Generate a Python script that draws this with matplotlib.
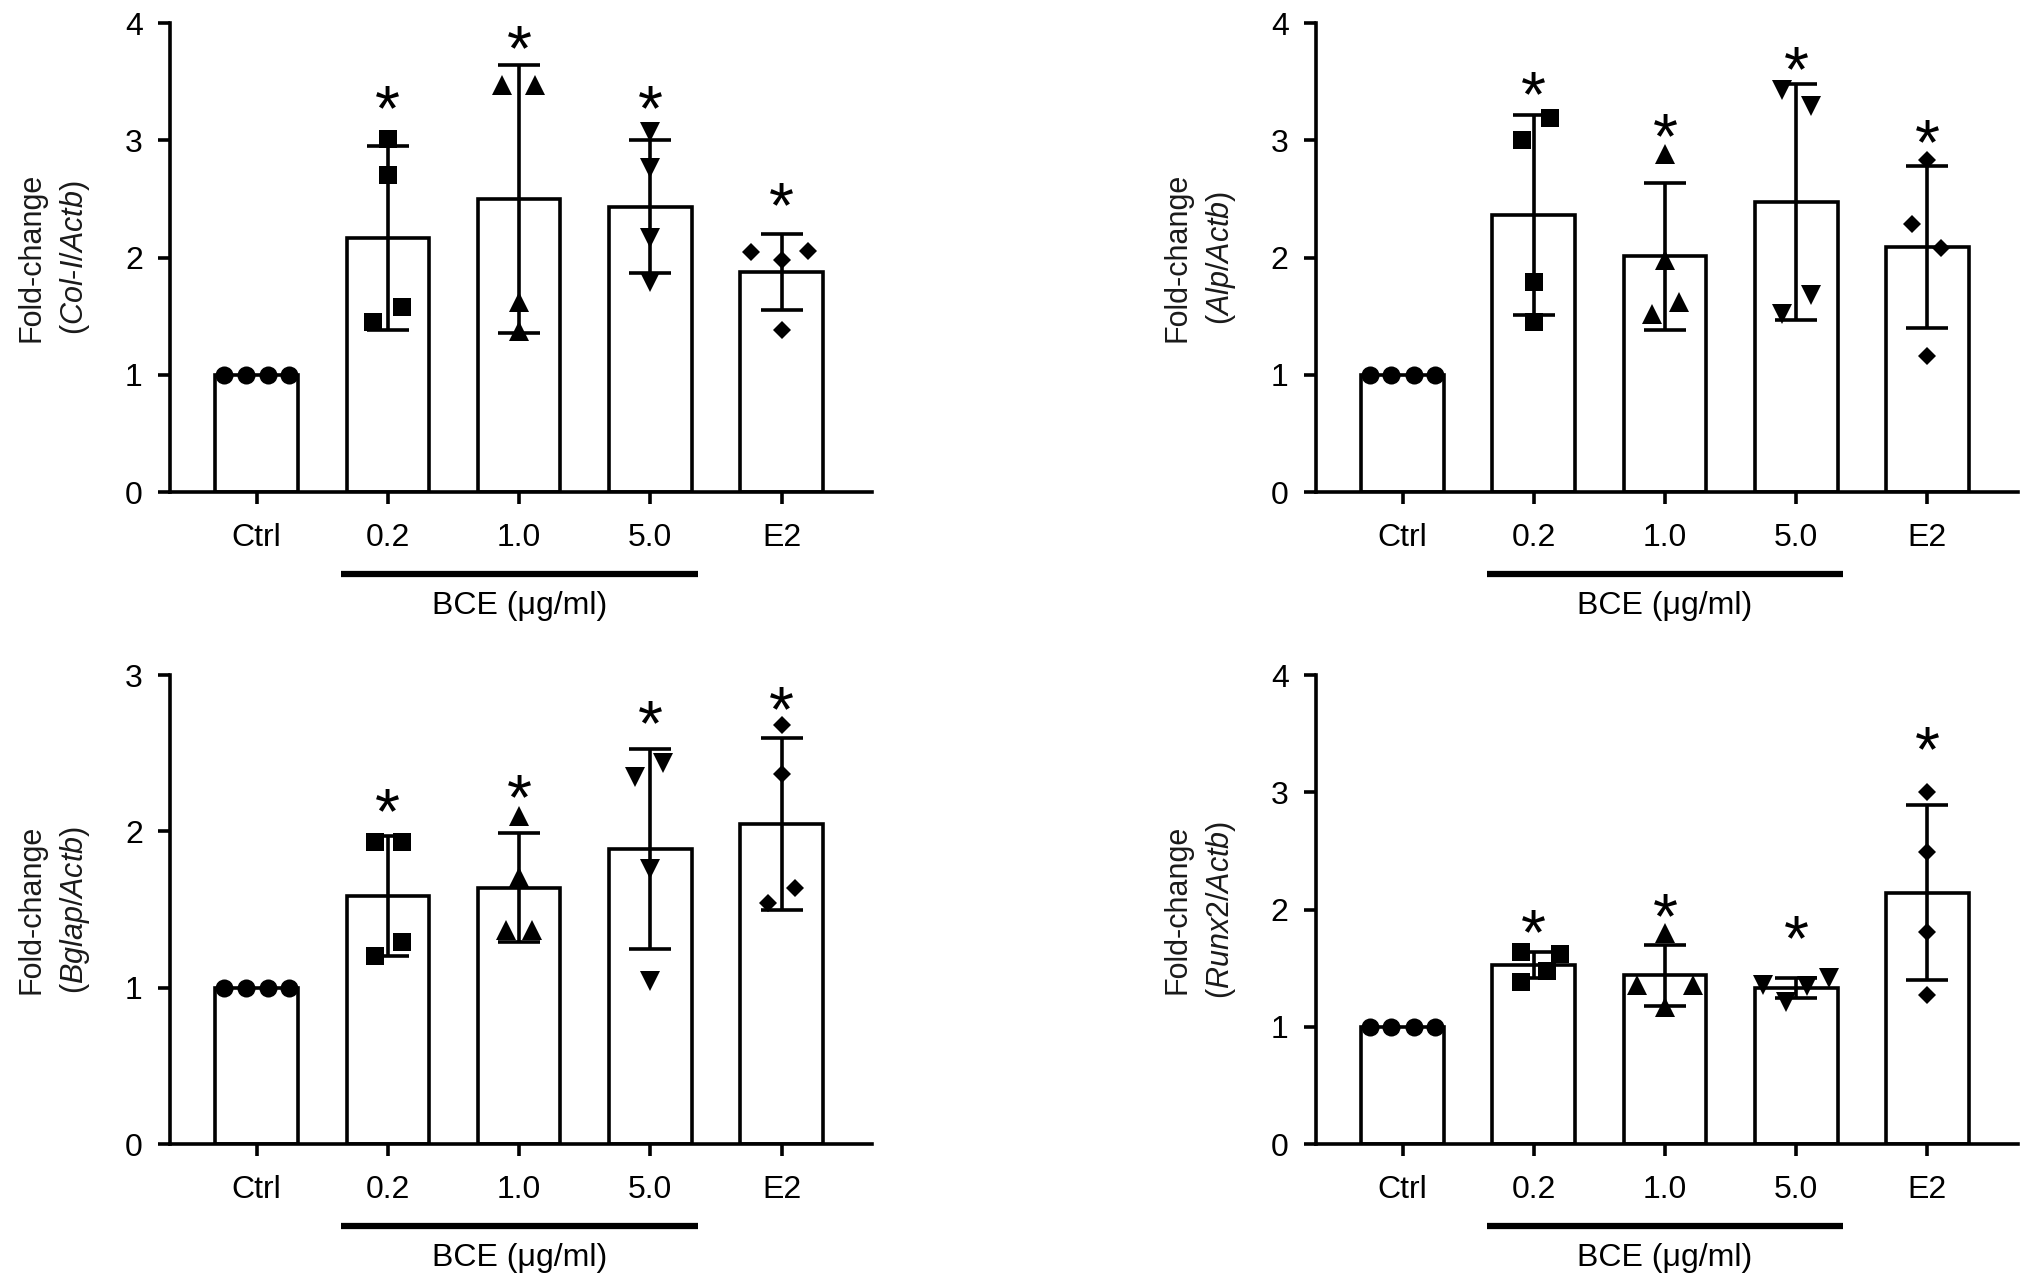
import matplotlib
matplotlib.use('Agg')
import matplotlib.pyplot as plt
import matplotlib.transforms as mtransforms
import numpy as np

plt.rcParams['font.family'] = ['Liberation Sans', 'DejaVu Sans']
plt.rcParams['mathtext.fontset'] = 'custom'
plt.rcParams['mathtext.it'] = 'Liberation Sans:italic'
plt.rcParams['mathtext.rm'] = 'Liberation Sans'

# ---------------- data ----------------
categories = ['Ctrl', '0.2', '1.0', '5.0', 'E2']
bracket_label = 'BCE (μg/ml)'
genes = ['Col-I', 'Alp', 'Bglap', 'Runx2']
y_tops = [4, 4, 3, 4]

# Col-I / Actb
colI_mean = [1.0, 2.17, 2.50, 2.435, 1.875]
colI_sd = [0.0, 0.785, 1.145, 0.565, 0.325]
colI_points = [[1.0, 1.0, 1.0, 1.0],
               [3.01, 2.70, 1.58, 1.45],
               [3.47, 3.47, 1.62, 1.37],
               [3.07, 2.76, 2.17, 1.79],
               [2.05, 1.98, 2.06, 1.38]]
colI_stars = [None, 3.41, 3.92, 3.41, 2.58]

# Alp / Actb
alp_mean = [1.0, 2.365, 2.01, 2.475, 2.09]
alp_sd = [0.0, 0.855, 0.63, 1.005, 0.69]
alp_points = [[1.0, 1.0, 1.0, 1.0],
              [3.19, 3.00, 1.79, 1.45],
              [2.88, 1.98, 1.62, 1.52],
              [3.43, 3.29, 1.68, 1.52],
              [2.83, 2.29, 2.08, 1.16]]
alp_stars = [None, 3.53, 3.17, 3.74, 3.12]

# Bglap / Actb
bglap_mean = [1.0, 1.585, 1.64, 1.89, 2.05]
bglap_sd = [0.0, 0.385, 0.35, 0.64, 0.55]
bglap_points = [[1.0, 1.0, 1.0, 1.0],
                [1.93, 1.93, 1.29, 1.20],
                [2.10, 1.71, 1.37, 1.37],
                [2.35, 2.44, 1.76, 1.04],
                [2.68, 2.37, 1.54, 1.64]]
bglap_stars = [None, 2.23, 2.32, 2.79, 2.88]

# Runx2 / Actb
runx2_mean = [1.0, 1.53, 1.44, 1.335, 2.145]
runx2_sd = [0.0, 0.11, 0.26, 0.085, 0.745]
runx2_points = [[1.0, 1.0, 1.0, 1.0],
                [1.64, 1.62, 1.38, 1.48],
                [1.80, 1.355, 1.355, 1.17],
                [1.36, 1.35, 1.42, 1.21],
                [3.00, 2.49, 1.81, 1.27]]
runx2_stars = [None, 1.94, 2.08, 1.89, 3.50]

# horizontal jitter of the individual points (style)
colI_offsets = [[-0.25, -0.085, 0.085, 0.25], [0, 0, 0.11, -0.11], [-0.13, 0.12, 0, 0],
                [0, 0, 0, 0], [-0.23, 0, 0.2, 0]]
alp_offsets = [[-0.25, -0.085, 0.085, 0.25], [0.12, -0.09, 0, 0], [0, 0, 0.11, -0.1],
               [-0.11, 0.11, 0.11, -0.11], [0, -0.12, 0.1, 0]]
bglap_offsets = [[-0.25, -0.085, 0.085, 0.25], [-0.095, 0.11, 0.11, -0.1], [0, 0, -0.1, 0.1],
                 [-0.12, 0.1, 0, 0], [0, 0, -0.1, 0.1]]
runx2_offsets = [[-0.25, -0.085, 0.085, 0.25], [-0.1, 0.2, -0.1, 0.1], [0, -0.215, 0.215, 0],
                 [-0.25, 0.08, 0.25, -0.08], [0, 0, 0, 0]]

markers = ['o', 's', '^', 'v', 'D']
msizes = [13, 13, 14, 14, 9.5]

LW = 2.6
FS = 23

fig = plt.figure(figsize=(20.32, 12.82), dpi=100)
positions = [[0.0837, 0.6162, 0.3455, 0.3658],
             [0.6476, 0.6162, 0.3455, 0.3658],
             [0.0837, 0.1076, 0.3455, 0.3658],
             [0.6476, 0.1076, 0.3455, 0.3658]]

panels = [
    (colI_mean, colI_sd, colI_points, colI_offsets, colI_stars),
    (alp_mean, alp_sd, alp_points, alp_offsets, alp_stars),
    (bglap_mean, bglap_sd, bglap_points, bglap_offsets, bglap_stars),
    (runx2_mean, runx2_sd, runx2_points, runx2_offsets, runx2_stars),
]

for k, (mean, sd, pts, offs, stars) in enumerate(panels):
    ax = fig.add_axes(positions[k])
    x = np.arange(len(categories))
    ax.bar(x, mean, width=0.63, color='white', edgecolor='black', linewidth=LW, zorder=1)
    for i in range(len(categories)):
        xs = x[i] + np.array(offs[i])
        ax.plot(xs, pts[i], linestyle='none', marker=markers[i], ms=msizes[i],
                color='black', markeredgewidth=0, zorder=3, clip_on=False)
    ax.errorbar(x[1:], mean[1:], yerr=sd[1:], fmt='none', ecolor='black',
                elinewidth=LW, capsize=15, capthick=LW, zorder=4)
    for i, s in enumerate(stars):
        if s is not None:
            ax.annotate('*', xy=(x[i], s), xytext=(0, -27), textcoords='offset points',
                        ha='center', va='baseline', fontsize=46, annotation_clip=False)
    ax.set_xlim(-0.66, 4.69)
    ax.set_ylim(0, y_tops[k])
    ax.set_yticks(range(0, y_tops[k] + 1))
    ax.set_xticks(x, categories)
    for sp in ['top', 'right']:
        ax.spines[sp].set_visible(False)
    for sp in ['left', 'bottom']:
        ax.spines[sp].set_linewidth(LW)
    ax.tick_params(axis='x', length=8.6, width=LW, pad=14, labelsize=FS)
    ax.tick_params(axis='y', length=8.6, width=LW, pad=11, labelsize=FS)
    g = genes[k].replace('-', '}$-$\\mathit{')
    label = 'Fold-change\n($\\mathit{' + g + '/Actb}$)'
    ax.set_ylabel(label, fontsize=22, linespacing=1.45, color='#1a1a1a')
    ax.yaxis.set_label_coords(-0.111, 0.5)
    trans = mtransforms.blended_transform_factory(ax.transData, ax.transAxes)
    ax.plot([0.64, 3.36], [-0.175, -0.175], transform=trans, color='black', lw=4.5,
            solid_capstyle='butt', clip_on=False)
    ax.text(2.0, -0.243, bracket_label, transform=trans, ha='center', va='center', fontsize=FS)

fig.savefig('out.png', dpi=100)
